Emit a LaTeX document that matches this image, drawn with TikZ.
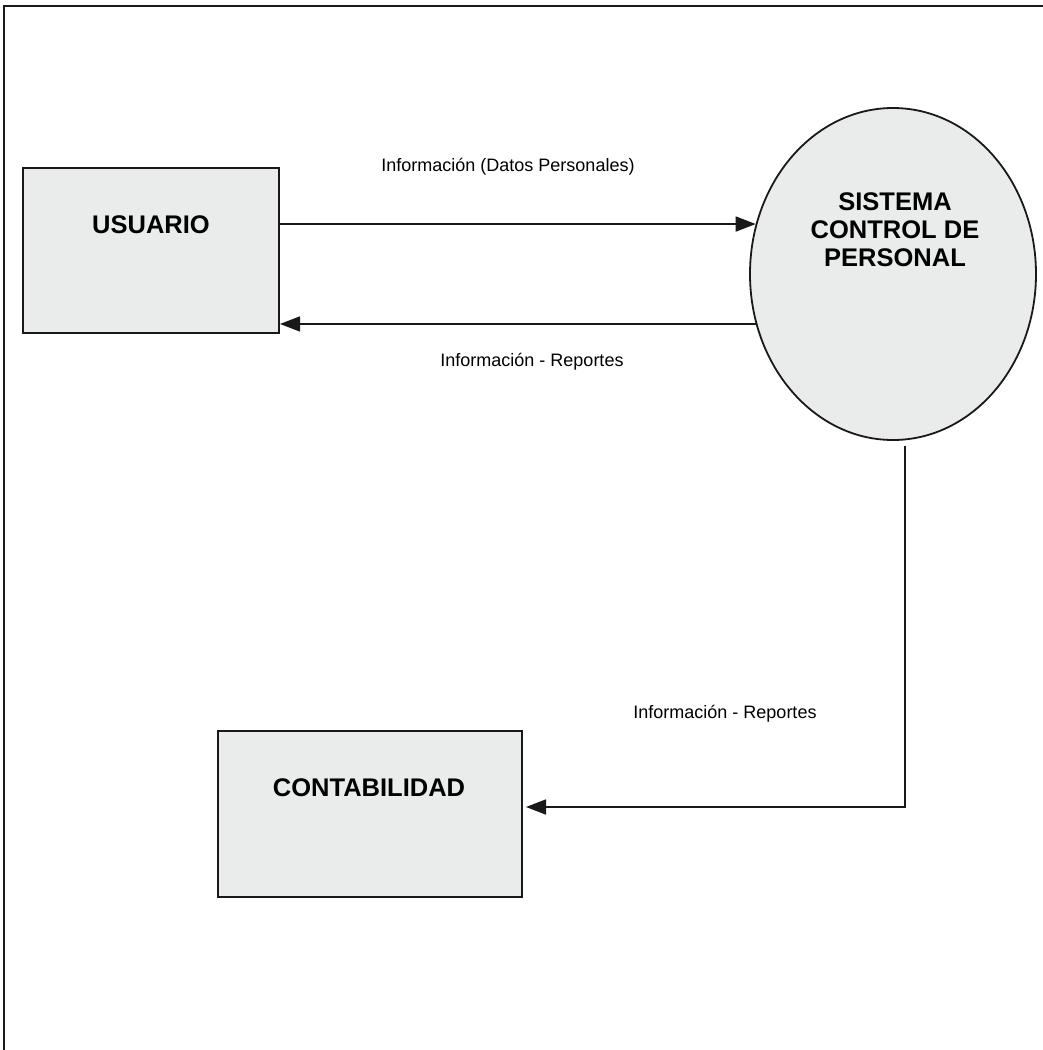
\documentclass[tikz,border=0pt]{standalone}
\usepackage{fontspec}
\setmainfont{Liberation Sans}
\usetikzlibrary{arrows.meta,shapes.geometric,calc}
\definecolor{boxfill}{RGB}{234,236,236}
\begin{document}
\begin{tikzpicture}[x=1pt,y=-1pt,
  frame/.style={line width=2pt,black!90},
  entity/.style={draw=black!90,line width=2pt,fill=boxfill,rectangle,inner sep=0pt},
  process/.style={draw=black!90,line width=1.8pt,fill=boxfill,ellipse,inner sep=0pt},
  bigtxt/.style={font=\fontsize{25.5}{28}\selectfont\bfseries,align=center,inner sep=0pt,text=black},
  lbl/.style={font=\fontsize{18}{22}\selectfont,inner sep=0pt,text=black},
  flow/.style={line width=1.6pt,black!90,-{Triangle[length=20pt,width=15pt]}}]
\useasboundingbox (0,0) rectangle (1043,1050);
\fill[white] (0,0) rectangle (1043,1050);
% open frame
\draw[frame] (1043,6) -- (4,6) -- (4,1050);
% nodes
\node[entity,minimum width=256pt,minimum height=165pt] (usr) at (151,250.5) {};
\node[bigtxt] (usrt) at (151,225) {USUARIO};
\node[process,minimum width=286pt,minimum height=332pt] (sys) at (893,274) {};
\node[bigtxt] (syst) at (895,230) {SISTEMA\\CONTROL DE\\PERSONAL};
\node[entity,minimum width=304pt,minimum height=166pt] (cont) at (370,814) {};
\node[bigtxt] (contt) at (369,788) {CONTABILIDAD};
% connectors
\draw[flow] (usr.east |- sys.160) -- (sys.160);
\draw[flow] (sys.200) -- (usr.east |- sys.200);
\coordinate (turn) at (905,807);
\draw[flow] (sys.south -| turn) ++(0,5) -- (turn) -- ([xshift=3pt]cont.east |- turn);
% labels
\node[lbl] (l1) at (508,167) {Información (Datos Personales)};
\node[lbl] (l2) at (532,362) {Información - Reportes};
\node[lbl] (l3) at (725,714) {Información - Reportes};
\end{tikzpicture}
\end{document}
